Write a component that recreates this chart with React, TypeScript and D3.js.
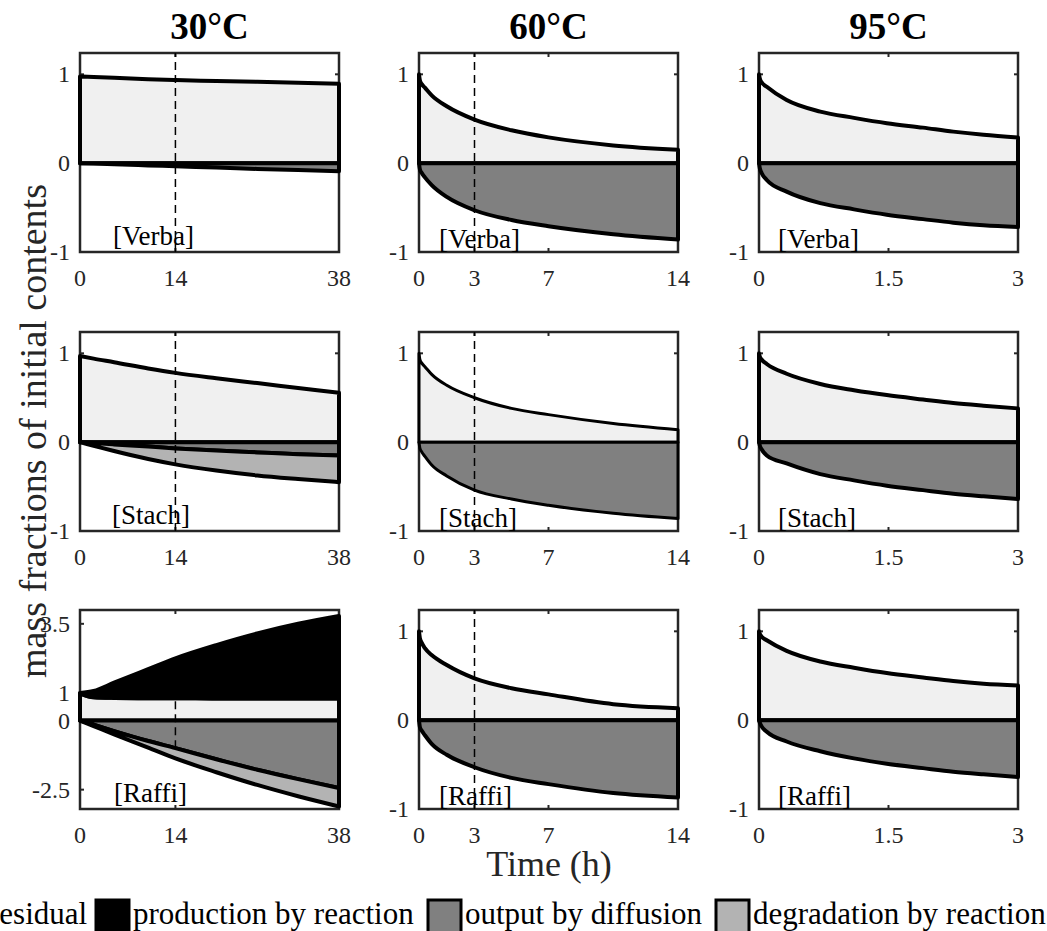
import React from "react";
import * as d3 from "d3";

// ---------- data ----------
const temperatures = ["30°C", "60°C", "95°C"];
const compounds = ["Verba", "Stach", "Raffi"];

const time30 = [0, 2, 5, 10, 14, 20, 26, 32, 38];
const time60 = [0, 0.05, 0.15, 0.32, 0.7, 1.5, 3, 5, 7, 10.5, 14];
const time95 = [0, 0.01, 0.03, 0.09, 0.32, 0.71, 1.1, 1.48, 1.9, 2.25, 2.6, 3];

const xTicks30 = [0, 14, 38];
const xTicks60 = [0, 3, 7, 14];
const xTicks95 = [0, 1.5, 3];
const yTicksDefault = [-1, 0, 1];
const yTicksRaffi30 = [-2.5, 0, 1, 3.5];
const markerTime30 = 14;
const markerTime60 = 3;

// 30°C
const verba30Residual = [0.975, 0.97, 0.962, 0.945, 0.935, 0.925, 0.915, 0.905, 0.895];
const verba30Diffusion = [0, -0.005, -0.012, -0.025, -0.035, -0.05, -0.065, -0.078, -0.09];
const stach30Residual = [0.97, 0.94, 0.9, 0.83, 0.78, 0.72, 0.665, 0.61, 0.555];
const stach30Diffusion = [0, -0.01, -0.025, -0.05, -0.07, -0.095, -0.115, -0.135, -0.15];
const stach30Degradation = [0, -0.04, -0.1, -0.19, -0.25, -0.32, -0.375, -0.415, -0.45];
const raffi30Residual = [0.98, 0.84, 0.82, 0.81, 0.81, 0.8, 0.8, 0.8, 0.8];
const raffi30Production = [1.0, 1.07, 1.37, 1.86, 2.25, 2.73, 3.15, 3.5, 3.78];
const raffi30Diffusion = [0, -0.15, -0.38, -0.74, -1.0, -1.4, -1.78, -2.12, -2.44];
const raffi30Degradation = [0, -0.2, -0.5, -0.98, -1.37, -1.87, -2.33, -2.74, -3.11];

// 60°C
const verba60Residual = [1.0, 0.93, 0.89, 0.85, 0.76, 0.64, 0.49, 0.37, 0.29, 0.2, 0.15];
const verba60Diffusion = [0, -0.07, -0.11, -0.16, -0.25, -0.38, -0.53, -0.64, -0.71, -0.8, -0.86];
const stach60Residual = [1.0, 0.93, 0.89, 0.85, 0.76, 0.64, 0.5, 0.38, 0.31, 0.21, 0.14];
const stach60Diffusion = [0, -0.07, -0.11, -0.16, -0.26, -0.38, -0.54, -0.64, -0.71, -0.8, -0.86];
const raffi60Residual = [1.0, 0.92, 0.87, 0.81, 0.73, 0.62, 0.47, 0.36, 0.29, 0.18, 0.135];
const raffi60Diffusion = [0, -0.08, -0.12, -0.17, -0.27, -0.39, -0.53, -0.65, -0.72, -0.82, -0.87];

// 95°C
const verba95Residual = [1.0, 0.95, 0.91, 0.86, 0.71, 0.58, 0.51, 0.45, 0.4, 0.355, 0.32, 0.29];
const verba95Diffusion = [0, -0.06, -0.11, -0.19, -0.32, -0.45, -0.52, -0.58, -0.63, -0.67, -0.7, -0.72];
const stach95Residual = [1.0, 0.96, 0.93, 0.88, 0.77, 0.655, 0.585, 0.53, 0.48, 0.44, 0.41, 0.38];
const stach95Diffusion = [0, -0.04, -0.08, -0.15, -0.24, -0.36, -0.43, -0.49, -0.54, -0.58, -0.61, -0.64];
const raffi95Residual = [1.0, 0.97, 0.94, 0.9, 0.78, 0.66, 0.59, 0.53, 0.48, 0.44, 0.41, 0.39];
const raffi95Diffusion = [0, -0.03, -0.07, -0.13, -0.24, -0.35, -0.43, -0.49, -0.54, -0.58, -0.61, -0.64];

const legendLabels = ["residual", "production by reaction", "output by diffusion", "degradation by reaction"];
const legendColors = ["#f0f0f0", "#000000", "#808080", "#b3b3b3"];

// ---------- layout ----------
const W = 1047;
const H = 931;
const colLeft = [80, 419, 759];
const rowTop = [53, 332, 610];
const PW = 259;
const PH = 199;
const FONT = "'Liberation Serif', 'Times New Roman', Times, serif";
const AXIS_COLOR = "#262626";

type Spec = {
  t: number[];
  residual: number[];
  production?: number[];
  diffusion: number[];
  degradation?: number[];
  xDomain: [number, number];
  yDomain: [number, number];
  xTicks: number[];
  yTicks: number[];
  marker?: number;
  stroke: number;
  labelOffset: number;
  labelDrop: number;
};

const Y_DEFAULT: [number, number] = [-1, 1.24];

const specs: Spec[][] = [
  [
    { t: time30, residual: verba30Residual, diffusion: verba30Diffusion, xDomain: [0, 38], yDomain: Y_DEFAULT, xTicks: xTicks30, yTicks: yTicksDefault, marker: markerTime30, stroke: 4, labelOffset: 33, labelDrop: 7 },
    { t: time60, residual: verba60Residual, diffusion: verba60Diffusion, xDomain: [0, 14], yDomain: Y_DEFAULT, xTicks: xTicks60, yTicks: yTicksDefault, marker: markerTime60, stroke: 4, labelOffset: 20, labelDrop: 4 },
    { t: time95, residual: verba95Residual, diffusion: verba95Diffusion, xDomain: [0, 3], yDomain: Y_DEFAULT, xTicks: xTicks95, yTicks: yTicksDefault, stroke: 4, labelOffset: 19, labelDrop: 4 },
  ],
  [
    { t: time30, residual: stach30Residual, diffusion: stach30Diffusion, degradation: stach30Degradation, xDomain: [0, 38], yDomain: Y_DEFAULT, xTicks: xTicks30, yTicks: yTicksDefault, marker: markerTime30, stroke: 4, labelOffset: 32, labelDrop: 7 },
    { t: time60, residual: stach60Residual, diffusion: stach60Diffusion, xDomain: [0, 14], yDomain: Y_DEFAULT, xTicks: xTicks60, yTicks: yTicksDefault, marker: markerTime60, stroke: 3, labelOffset: 20, labelDrop: 4 },
    { t: time95, residual: stach95Residual, diffusion: stach95Diffusion, xDomain: [0, 3], yDomain: Y_DEFAULT, xTicks: xTicks95, yTicks: yTicksDefault, stroke: 4, labelOffset: 19, labelDrop: 4 },
  ],
  [
    { t: time30, residual: raffi30Residual, production: raffi30Production, diffusion: raffi30Diffusion, degradation: raffi30Degradation, xDomain: [0, 38], yDomain: [-3.2, 4], xTicks: xTicks30, yTicks: yTicksRaffi30, marker: markerTime30, stroke: 4, labelOffset: 34, labelDrop: 7 },
    { t: time60, residual: raffi60Residual, diffusion: raffi60Diffusion, xDomain: [0, 14], yDomain: Y_DEFAULT, xTicks: xTicks60, yTicks: yTicksDefault, marker: markerTime60, stroke: 4, labelOffset: 20, labelDrop: 4 },
    { t: time95, residual: raffi95Residual, diffusion: raffi95Diffusion, xDomain: [0, 3], yDomain: Y_DEFAULT, xTicks: xTicks95, yTicks: yTicksDefault, stroke: 4, labelOffset: 19, labelDrop: 4 },
  ],
];

function Panel({ spec, left, top, name }: { spec: Spec; left: number; top: number; name: string }) {
  const x = d3.scaleLinear().domain(spec.xDomain).range([left, left + PW]);
  const y = d3.scaleLinear().domain(spec.yDomain).range([top + PH, top]);
  const zero = spec.t.map(() => 0);
  const areaPath = (lo: number[], hi: number[]) =>
    d3
      .area<number>()
      .x((d) => x(d))
      .y0((_, i) => y(lo[i]))
      .y1((_, i) => y(hi[i]))
      .curve(d3.curveMonotoneX)(spec.t) || "";

  const regions: { d: string; fill: string }[] = [];
  regions.push({ d: areaPath(zero, spec.residual), fill: legendColors[0] });
  if (spec.production) regions.push({ d: areaPath(spec.residual, spec.production), fill: legendColors[1] });
  regions.push({ d: areaPath(zero, spec.diffusion), fill: legendColors[2] });
  if (spec.degradation) regions.push({ d: areaPath(spec.diffusion, spec.degradation), fill: legendColors[3] });

  const tickLen = 4;
  const bottom = top + PH;
  const right = left + PW;

  return (
    <g>
      <rect x={left} y={top} width={PW} height={PH} fill="white" stroke={AXIS_COLOR} strokeWidth={2.5} />
      {spec.xTicks.map((v) => (
        <g key={"xt" + v}>
          <line x1={x(v)} x2={x(v)} y1={bottom} y2={bottom - tickLen} stroke={AXIS_COLOR} strokeWidth={2} />
          <line x1={x(v)} x2={x(v)} y1={top} y2={top + tickLen} stroke={AXIS_COLOR} strokeWidth={2} />
          <text x={x(v)} y={bottom + 34} textAnchor="middle" fontFamily={FONT} fontSize={24} fill={AXIS_COLOR}>
            {String(v)}
          </text>
        </g>
      ))}
      {spec.yTicks.map((v) => (
        <g key={"yt" + v}>
          <line x1={left} x2={left + tickLen} y1={y(v)} y2={y(v)} stroke={AXIS_COLOR} strokeWidth={2} />
          <line x1={right} x2={right - tickLen} y1={y(v)} y2={y(v)} stroke={AXIS_COLOR} strokeWidth={2} />
          <text x={left - 10} y={y(v)} dy="0.34em" textAnchor="end" fontFamily={FONT} fontSize={24} fill={AXIS_COLOR}>
            {String(v)}
          </text>
        </g>
      ))}
      {regions.map((r, i) => (
        <path key={i} d={r.d} fill={r.fill} stroke="#000" strokeWidth={spec.stroke} strokeLinejoin="round" />
      ))}
      {spec.marker !== undefined && (
        <line
          x1={x(spec.marker)}
          x2={x(spec.marker)}
          y1={y(-1)}
          y2={y(1.24)}
          stroke="#000"
          strokeWidth={1.5}
          strokeDasharray="8 5"
        />
      )}
      <text x={left + spec.labelOffset} y={bottom - spec.labelDrop} fontFamily={FONT} fontSize={27} fill="#000">
        {"[" + name + "]"}
      </text>
    </g>
  );
}

const legendSwatchX = [-48, 96, 428, 716];

export default function App() {
  return (
    <svg width={W} height={H} style={{ position: "absolute", left: 0, top: 0, background: "white" }} xmlns="http://www.w3.org/2000/svg">
      <rect x={0} y={0} width={W} height={H} fill="white" />
      {temperatures.map((tl, c) => (
        <text key={tl} x={colLeft[c] + PW / 2} y={39} textAnchor="middle" fontFamily={FONT} fontWeight="bold" fontSize={37} fill="#000">
          {tl}
        </text>
      ))}
      {specs.map((row, r) =>
        row.map((spec, c) => (
          <Panel key={r + "-" + c} spec={spec} left={colLeft[c]} top={rowTop[r]} name={compounds[r]} />
        ))
      )}
      <text
        transform={`translate(46, ${(rowTop[0] + rowTop[2] + PH) / 2}) rotate(-90)`}
        textAnchor="middle"
        fontFamily={FONT}
        fontSize={38}
        fill={AXIS_COLOR}
      >
        mass fractions of initial contents
      </text>
      <text x={(colLeft[0] + colLeft[2] + PW) / 2} y={876} textAnchor="middle" fontFamily={FONT} fontSize={36} fill={AXIS_COLOR}>
        Time (h)
      </text>
      {legendLabels.map((lab, i) => (
        <g key={lab}>
          <rect
            x={legendSwatchX[i]}
            y={900}
            width={33}
            height={34}
            fill={legendColors[i]}
            stroke="#000"
            strokeWidth={3}
          />
          <text x={legendSwatchX[i] + 37} y={924} fontFamily={FONT} fontSize={31} fill="#000">
            {lab}
          </text>
        </g>
      ))}
    </svg>
  );
}
